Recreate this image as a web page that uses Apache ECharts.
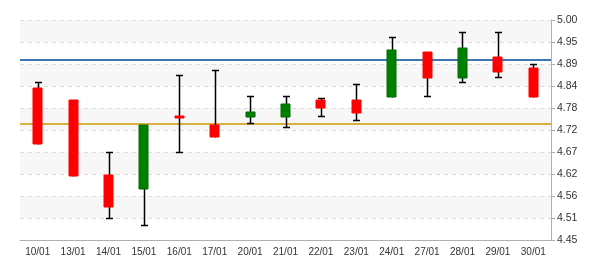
<!DOCTYPE html>
<html>
<head>
<meta charset="utf-8">
<script src="https://cdn.jsdelivr.net/npm/echarts@6/dist/echarts.min.js"></script>
<style>html,body{margin:0;padding:0;background:#fff}#c{width:600px;height:270px}</style>
</head>
<body>
<div id="c"></div>
<script>
const categories = ['10/01','13/01','14/01','15/01','16/01','17/01','20/01','21/01','22/01','23/01','24/01','27/01','28/01','29/01','30/01'];
const opens  = [4.831, 4.800, 4.613, 4.578, 4.760, 4.738, 4.758, 4.758, 4.800, 4.800, 4.808, 4.920, 4.856, 4.908, 4.880];
const closes = [4.691, 4.611, 4.533, 4.738, 4.756, 4.708, 4.770, 4.790, 4.781, 4.768, 4.925, 4.856, 4.930, 4.871, 4.808];
const lows   = [4.691, 4.611, 4.504, 4.487, 4.669, 4.708, 4.742, 4.732, 4.759, 4.749, 4.808, 4.809, 4.844, 4.857, 4.808];
const highs  = [4.845, 4.800, 4.669, 4.738, 4.862, 4.874, 4.809, 4.809, 4.804, 4.839, 4.957, 4.920, 4.969, 4.969, 4.890];
const yTickLabels = ['4.45','4.51','4.56','4.62','4.67','4.72','4.78','4.84','4.89','4.95','5.00'];
const yMin = 4.45, yMax = 5.00;
const refBlue = 4.899;
const refOrange = 4.739;

const data = categories.map((c, i) => [i, opens[i], closes[i], lows[i], highs[i]]);

function renderItem(params, api) {
  const i = api.value(0);
  const o = api.value(1), c = api.value(2), l = api.value(3), h = api.value(4);
  const pO = api.coord([i, o]);
  const yC = api.coord([i, c])[1];
  const yL = Math.round(api.coord([i, l])[1]) + 0.5;
  const yH = Math.round(api.coord([i, h])[1]) + 0.5;
  const x = pO[0];
  const xr = Math.round(x) + 0.5;
  const up = c > o;
  const bw = 9, cw = 7;
  const top = Math.round(Math.min(pO[1], yC));
  const hgt = Math.max(Math.round(Math.abs(pO[1] - yC)), 2);
  const bottom = top + hgt;
  const ws = { stroke: '#000', lineWidth: 1.5 };
  const children = [];
  children.push({ type: 'line', shape: { x1: xr, y1: yH, x2: xr, y2: yL }, style: ws });
  if (yH < top - 0.6) children.push({ type: 'line', shape: { x1: xr - cw / 2, y1: yH, x2: xr + cw / 2, y2: yH }, style: ws });
  if (yL > bottom + 0.6) children.push({ type: 'line', shape: { x1: xr - cw / 2, y1: yL, x2: xr + cw / 2, y2: yL }, style: ws });
  children.push({ type: 'rect', shape: { x: Math.round(x - bw / 2), y: top, width: bw, height: hgt },
    style: { fill: up ? '#008000' : '#ff0000', stroke: up ? '#006a00' : '#ff0000', lineWidth: 1 } });
  return { type: 'group', children: children };
}

const chart = echarts.init(document.getElementById('c'), null, { renderer: 'canvas' });
chart.setOption({
  animation: false,
  backgroundColor: '#fff',
  grid: { left: 20, right: 49, top: 20, bottom: 30 },
  xAxis: {
    type: 'category',
    data: categories,
    boundaryGap: true,
    axisLine: { lineStyle: { color: '#b0b0b0', width: 1 } },
    axisTick: { alignWithLabel: true, interval: 0, length: 3, lineStyle: { color: '#b0b0b0' } },
    axisLabel: { interval: 0, color: '#333', fontSize: 10, fontFamily: 'Liberation Sans, Arial, sans-serif', margin: 7 },
    splitLine: { show: false }
  },
  yAxis: [
    { type: 'value', min: yMin, max: yMax, position: 'right', show: false, splitLine: { show: false } },
    {
      type: 'value', min: 0, max: yTickLabels.length - 1, interval: 1, position: 'right',
      axisLine: { show: true, lineStyle: { color: '#b0b0b0' } },
      axisTick: { show: true, length: 4, lineStyle: { color: '#b0b0b0' } },
      axisLabel: { color: '#333', fontSize: 10.5, fontFamily: 'Liberation Sans, Arial, sans-serif', margin: 6,
        formatter: v => yTickLabels[Math.round(v)] },
      splitLine: { show: true, lineStyle: { color: '#dcdcdc', type: [4, 4], width: 1 } },
      splitArea: { show: true, areaStyle: { color: ['#ffffff', '#f7f7f7'] } }
    }
  ],
  series: [
    {
      type: 'line', yAxisIndex: 0, data: [], z: 1, silent: true,
      markLine: {
        silent: true, symbol: ['none', 'none'], label: { show: false },
        data: [
          { yAxis: refBlue, lineStyle: { color: '#00479d', width: 1.5, type: 'solid' } },
          { yAxis: refOrange, lineStyle: { color: '#cc9900', width: 1.5, type: 'solid' } }
        ]
      }
    },
    {
      type: 'custom', yAxisIndex: 0, z: 5,
      renderItem: renderItem,
      encode: { x: 0, y: [1, 2, 3, 4] },
      data: data
    }
  ]
});
</script>
</body>
</html>
